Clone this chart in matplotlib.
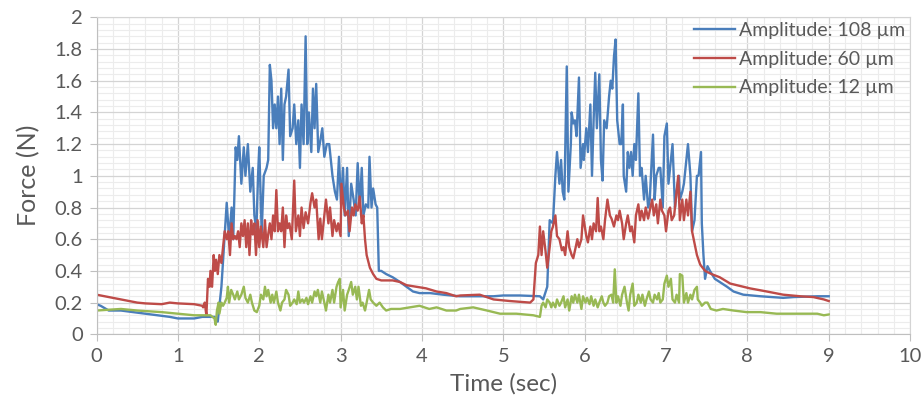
import matplotlib
matplotlib.use("Agg")
import matplotlib.pyplot as plt
from matplotlib.ticker import MultipleLocator

plt.rcParams['font.family'] = ['Lato', 'DejaVu Sans']

# (time, force)
blue_108 = [
    (0, 0.19), (0.05, 0.18), (0.15, 0.15), (0.3, 0.15), (0.45, 0.14), (0.6, 0.13),
    (0.75, 0.12), (0.9, 0.11), (1.0, 0.10), (1.1, 0.10), (1.2, 0.10), (1.3, 0.11),
    (1.45, 0.11), (1.49, 0.08), (1.535, 0.30), (1.6, 0.83), (1.63, 0.60), (1.66, 0.80),
    (1.68, 0.60), (1.71, 1.18), (1.73, 1.10), (1.75, 1.25), (1.78, 0.95), (1.81, 1.18),
    (1.83, 1.00), (1.86, 1.20), (1.89, 0.90), (1.92, 1.05), (1.94, 0.75), (1.965, 0.66),
    (1.985, 1.00), (2.0, 1.18), (2.03, 0.64), (2.055, 1.00), (2.09, 1.05), (2.11, 1.10),
    (2.13, 1.70), (2.15, 1.60), (2.17, 1.30), (2.19, 1.45), (2.21, 1.30), (2.23, 1.50),
    (2.25, 1.20), (2.27, 1.55), (2.29, 1.10), (2.31, 1.45), (2.33, 1.50), (2.36, 1.67),
    (2.38, 1.25), (2.41, 1.30), (2.43, 1.45), (2.455, 1.20), (2.48, 1.35), (2.5, 1.05),
    (2.52, 1.45), (2.545, 1.20), (2.57, 1.88), (2.59, 1.20), (2.61, 1.40), (2.64, 1.15),
    (2.66, 1.55), (2.68, 1.30), (2.70, 1.58), (2.725, 1.15), (2.75, 1.22), (2.775, 1.30),
    (2.80, 1.12), (2.83, 1.20), (2.86, 1.20), (2.90, 1.00), (2.93, 0.90), (2.955, 0.85),
    (2.98, 1.12), (3.005, 0.82), (3.03, 1.05), (3.05, 0.75), (3.08, 1.05), (3.10, 0.62),
    (3.13, 0.95), (3.16, 0.85), (3.185, 0.75), (3.21, 1.08), (3.235, 0.80), (3.26, 1.05),
    (3.28, 0.75), (3.31, 0.82), (3.34, 0.80), (3.355, 1.12), (3.38, 0.80), (3.40, 0.92),
    (3.43, 0.82), (3.45, 0.80), (3.47, 0.40), (3.50, 0.40), (3.56, 0.38), (3.64, 0.36),
    (3.73, 0.33), (3.81, 0.30), (3.89, 0.27), (3.97, 0.26), (4.1, 0.26), (4.26, 0.25),
    (4.46, 0.24), (4.7, 0.24), (4.88, 0.24), (5.0, 0.245), (5.2, 0.245), (5.45, 0.24),
    (5.49, 0.22), (5.54, 0.30), (5.57, 0.72), (5.61, 0.70), (5.64, 1.00), (5.66, 1.15),
    (5.69, 0.95), (5.71, 1.10), (5.73, 0.90), (5.75, 0.85), (5.78, 1.69), (5.80, 0.90),
    (5.83, 1.20), (5.84, 1.40), (5.86, 1.33), (5.88, 1.35), (5.90, 1.25), (5.93, 1.62),
    (5.95, 1.05), (5.98, 1.20), (5.99, 1.10), (6.02, 1.30), (6.04, 1.15), (6.07, 1.45),
    (6.09, 1.00), (6.11, 1.35), (6.13, 1.65), (6.15, 1.30), (6.18, 1.64), (6.20, 1.10),
    (6.22, 0.97), (6.24, 1.35), (6.27, 1.30), (6.30, 1.50), (6.32, 1.60), (6.34, 1.55),
    (6.36, 1.75), (6.38, 1.86), (6.40, 1.35), (6.43, 1.20), (6.45, 1.20), (6.47, 1.45),
    (6.48, 1.00), (6.51, 0.90), (6.53, 1.15), (6.55, 1.05), (6.57, 1.15), (6.59, 1.00),
    (6.61, 1.20), (6.63, 1.10), (6.66, 1.52), (6.68, 1.00), (6.70, 1.05), (6.73, 0.85),
    (6.75, 1.00), (6.78, 0.80), (6.80, 0.85), (6.84, 1.26), (6.86, 0.85), (6.88, 1.00),
    (6.91, 1.05), (6.93, 1.05), (6.96, 0.80), (6.98, 1.25), (7.01, 1.33), (7.03, 0.95),
    (7.06, 1.10), (7.08, 1.20), (7.11, 0.80), (7.13, 0.90), (7.16, 1.00), (7.17, 0.85),
    (7.20, 0.90), (7.22, 0.95), (7.25, 1.10), (7.27, 1.20), (7.30, 1.00), (7.32, 0.65),
    (7.35, 0.72), (7.38, 1.00), (7.40, 1.00), (7.43, 1.15), (7.44, 0.70), (7.46, 0.50),
    (7.48, 0.35), (7.51, 0.43), (7.54, 0.40), (7.60, 0.35), (7.66, 0.33), (7.75, 0.30),
    (7.83, 0.27), (7.95, 0.25), (8.16, 0.24), (8.44, 0.23), (8.57, 0.235), (8.86, 0.24),
    (9.0, 0.24),
]

red_60 = [
    (0, 0.25), (0.1, 0.24), (0.2, 0.23), (0.3, 0.22), (0.4, 0.21), (0.5, 0.20),
    (0.6, 0.195), (0.8, 0.19), (0.9, 0.20), (1.0, 0.195), (1.2, 0.19), (1.3, 0.18),
    (1.31, 0.17), (1.33, 0.20), (1.35, 0.12), (1.37, 0.35), (1.39, 0.30), (1.40, 0.40),
    (1.42, 0.30), (1.44, 0.50), (1.455, 0.40), (1.47, 0.47), (1.49, 0.38), (1.51, 0.50),
    (1.535, 0.45), (1.555, 0.55), (1.575, 0.65), (1.60, 0.60), (1.62, 0.65), (1.64, 0.50),
    (1.66, 0.70), (1.68, 0.60), (1.70, 0.62), (1.72, 0.60), (1.74, 0.65), (1.76, 0.55),
    (1.78, 0.70), (1.80, 0.62), (1.82, 0.72), (1.84, 0.55), (1.86, 0.70), (1.88, 0.50),
    (1.90, 0.72), (1.92, 0.63), (1.94, 0.70), (1.96, 0.50), (1.98, 0.72), (2.0, 0.55),
    (2.02, 0.68), (2.05, 0.55), (2.07, 0.72), (2.09, 0.55), (2.11, 0.63), (2.13, 0.70),
    (2.15, 0.60), (2.17, 0.75), (2.19, 0.65), (2.21, 0.91), (2.23, 0.65), (2.25, 0.70),
    (2.27, 0.65), (2.29, 0.80), (2.31, 0.55), (2.33, 0.75), (2.35, 0.67), (2.37, 0.70),
    (2.40, 0.60), (2.43, 0.97), (2.45, 0.65), (2.48, 0.75), (2.50, 0.62), (2.52, 0.80),
    (2.545, 0.67), (2.57, 0.77), (2.60, 0.70), (2.63, 0.83), (2.65, 0.89), (2.68, 0.80),
    (2.70, 0.85), (2.73, 0.60), (2.75, 0.73), (2.77, 0.60), (2.80, 0.75), (2.82, 0.85),
    (2.85, 0.70), (2.87, 0.80), (2.90, 0.62), (2.92, 0.72), (2.95, 0.65), (2.97, 0.70),
    (3.00, 0.62), (3.01, 0.95), (3.04, 0.80), (3.06, 0.75), (3.09, 0.78), (3.11, 0.65),
    (3.14, 0.80), (3.16, 0.75), (3.18, 0.82), (3.21, 0.78), (3.235, 0.87), (3.26, 0.70),
    (3.28, 0.75), (3.30, 0.60), (3.32, 0.50), (3.36, 0.42), (3.40, 0.38), (3.44, 0.35),
    (3.50, 0.34), (3.64, 0.34), (3.73, 0.33), (3.81, 0.31), (3.93, 0.30), (4.05, 0.29),
    (4.18, 0.27), (4.30, 0.26), (4.42, 0.24), (4.47, 0.245), (4.71, 0.25), (4.88, 0.22),
    (5.08, 0.21), (5.33, 0.20), (5.37, 0.22), (5.40, 0.45), (5.43, 0.50), (5.45, 0.68),
    (5.47, 0.50), (5.49, 0.65), (5.52, 0.52), (5.54, 0.42), (5.57, 0.55), (5.59, 0.65),
    (5.61, 0.68), (5.64, 0.75), (5.66, 0.62), (5.69, 0.60), (5.72, 0.53), (5.74, 0.55),
    (5.76, 0.50), (5.79, 0.65), (5.81, 0.55), (5.84, 0.50), (5.86, 0.48), (5.89, 0.55),
    (5.91, 0.60), (5.93, 0.55), (5.96, 0.60), (5.98, 0.75), (6.02, 0.62), (6.04, 0.58),
    (6.07, 0.68), (6.09, 0.60), (6.11, 0.70), (6.14, 0.65), (6.16, 0.86), (6.18, 0.65),
    (6.20, 0.68), (6.23, 0.60), (6.25, 0.72), (6.28, 0.85), (6.31, 0.75), (6.33, 0.73),
    (6.36, 0.68), (6.39, 0.75), (6.41, 0.72), (6.43, 0.78), (6.46, 0.70), (6.48, 0.60),
    (6.51, 0.70), (6.53, 0.75), (6.56, 0.65), (6.58, 0.68), (6.61, 0.58), (6.63, 0.75),
    (6.66, 0.82), (6.68, 0.72), (6.70, 0.78), (6.73, 0.72), (6.75, 0.80), (6.78, 0.73),
    (6.80, 0.78), (6.83, 0.85), (6.85, 0.75), (6.88, 0.82), (6.90, 0.70), (6.93, 0.85),
    (6.95, 0.78), (6.98, 0.75), (7.0, 0.65), (7.03, 0.78), (7.05, 0.80), (7.07, 0.72),
    (7.10, 0.75), (7.12, 0.85), (7.15, 1.00), (7.17, 0.72), (7.20, 0.85), (7.22, 0.72),
    (7.25, 0.85), (7.27, 0.75), (7.30, 0.90), (7.32, 0.65), (7.34, 0.60), (7.38, 0.50),
    (7.42, 0.44), (7.48, 0.40), (7.56, 0.38), (7.66, 0.36), (7.79, 0.32), (7.87, 0.31),
    (8.03, 0.29), (8.24, 0.27), (8.44, 0.25), (8.65, 0.24), (8.81, 0.235), (8.94, 0.22),
    (9.0, 0.21),
]

green_12 = [
    (0, 0.15), (0.3, 0.16), (0.5, 0.15), (0.8, 0.14), (1.0, 0.13), (1.2, 0.12),
    (1.4, 0.12), (1.45, 0.10), (1.465, 0.06), (1.48, 0.15), (1.50, 0.20), (1.51, 0.13),
    (1.535, 0.20), (1.555, 0.18), (1.575, 0.20), (1.60, 0.23), (1.615, 0.30), (1.63, 0.20),
    (1.655, 0.28), (1.68, 0.25), (1.70, 0.22), (1.73, 0.27), (1.75, 0.22), (1.78, 0.25),
    (1.81, 0.30), (1.83, 0.23), (1.86, 0.20), (1.89, 0.25), (1.91, 0.20), (1.94, 0.15),
    (1.97, 0.14), (2.0, 0.18), (2.02, 0.25), (2.05, 0.22), (2.07, 0.30), (2.09, 0.24),
    (2.11, 0.28), (2.14, 0.20), (2.16, 0.25), (2.18, 0.20), (2.21, 0.27), (2.23, 0.20),
    (2.26, 0.15), (2.28, 0.20), (2.31, 0.22), (2.33, 0.28), (2.36, 0.25), (2.38, 0.18),
    (2.41, 0.20), (2.43, 0.22), (2.46, 0.19), (2.48, 0.27), (2.50, 0.20), (2.53, 0.22),
    (2.55, 0.20), (2.58, 0.23), (2.60, 0.19), (2.63, 0.24), (2.65, 0.20), (2.68, 0.27),
    (2.70, 0.24), (2.72, 0.28), (2.75, 0.20), (2.77, 0.27), (2.80, 0.20), (2.82, 0.15),
    (2.85, 0.25), (2.87, 0.20), (2.90, 0.28), (2.92, 0.20), (2.95, 0.30), (2.97, 0.33),
    (2.99, 0.35), (3.0, 0.17), (3.03, 0.28), (3.05, 0.15), (3.08, 0.25), (3.10, 0.28),
    (3.13, 0.33), (3.15, 0.25), (3.18, 0.30), (3.20, 0.22), (3.22, 0.30), (3.25, 0.18),
    (3.27, 0.20), (3.30, 0.15), (3.32, 0.20), (3.35, 0.28), (3.37, 0.22), (3.40, 0.20),
    (3.44, 0.18), (3.48, 0.20), (3.52, 0.17), (3.56, 0.15), (3.62, 0.16), (3.73, 0.16),
    (3.85, 0.17), (3.97, 0.18), (4.09, 0.16), (4.18, 0.17), (4.30, 0.15), (4.42, 0.15),
    (4.47, 0.16), (4.63, 0.17), (4.80, 0.15), (4.96, 0.13), (5.16, 0.13), (5.37, 0.12),
    (5.45, 0.11), (5.47, 0.18), (5.49, 0.20), (5.52, 0.17), (5.54, 0.22), (5.57, 0.20),
    (5.59, 0.17), (5.61, 0.20), (5.64, 0.17), (5.66, 0.22), (5.69, 0.18), (5.71, 0.20),
    (5.74, 0.24), (5.76, 0.17), (5.79, 0.22), (5.81, 0.15), (5.84, 0.24), (5.86, 0.20),
    (5.88, 0.25), (5.91, 0.20), (5.93, 0.25), (5.96, 0.16), (5.98, 0.24), (6.01, 0.20),
    (6.03, 0.23), (6.06, 0.19), (6.08, 0.24), (6.11, 0.18), (6.13, 0.22), (6.16, 0.17),
    (6.18, 0.20), (6.21, 0.24), (6.23, 0.20), (6.25, 0.18), (6.28, 0.20), (6.30, 0.24),
    (6.33, 0.25), (6.35, 0.20), (6.37, 0.41), (6.39, 0.20), (6.41, 0.24), (6.44, 0.18),
    (6.46, 0.25), (6.49, 0.30), (6.52, 0.20), (6.54, 0.15), (6.56, 0.25), (6.59, 0.32),
    (6.61, 0.18), (6.64, 0.20), (6.66, 0.25), (6.69, 0.20), (6.71, 0.25), (6.74, 0.18),
    (6.76, 0.22), (6.79, 0.27), (6.81, 0.22), (6.84, 0.20), (6.86, 0.25), (6.89, 0.22),
    (6.91, 0.26), (6.93, 0.20), (6.96, 0.22), (6.98, 0.32), (7.01, 0.37), (7.03, 0.30),
    (7.06, 0.35), (7.08, 0.22), (7.11, 0.20), (7.13, 0.25), (7.16, 0.20), (7.17, 0.38),
    (7.20, 0.37), (7.22, 0.20), (7.25, 0.26), (7.27, 0.20), (7.30, 0.25), (7.32, 0.22),
    (7.35, 0.28), (7.38, 0.30), (7.39, 0.22), (7.42, 0.20), (7.44, 0.18), (7.48, 0.20),
    (7.51, 0.20), (7.55, 0.16), (7.62, 0.15), (7.70, 0.16), (7.83, 0.15), (7.99, 0.14),
    (8.16, 0.14), (8.36, 0.13), (8.48, 0.13), (8.57, 0.13), (8.73, 0.13), (8.86, 0.13),
    (8.94, 0.12), (9.0, 0.125),
]

labels = ['Amplitude: 108 µm', 'Amplitude: 60 µm', 'Amplitude: 12 µm']
colors = ['#4a7ebb', '#be4b48', '#98b954']
ytick_labels = ['0', '0.2', '0.4', '0.6', '0.8', '1', '1.2', '1.4', '1.6', '1.8', '2']

fig = plt.figure(figsize=(9.23, 4.07), dpi=100)
ax = fig.add_axes([0.1046, 0.1786, 0.8814, 0.7789])

for series, lab, col in zip([blue_108, red_60, green_12], labels, colors):
    t = [p[0] for p in series]
    f = [p[1] for p in series]
    ax.plot(t, f, color=col, lw=1.7, label=lab, solid_joinstyle='round')

ax.set_xlim(0, 10)
ax.set_ylim(0, 2)
ax.xaxis.set_major_locator(MultipleLocator(1))
ax.xaxis.set_minor_locator(MultipleLocator(0.2))
ax.set_yticks([i * 0.2 for i in range(11)])
ax.set_yticklabels(ytick_labels)
ax.yaxis.set_minor_locator(MultipleLocator(0.04))

ax.grid(which='major', color='#d4d4d4', lw=0.9)
ax.grid(which='minor', color='#ececec', lw=0.8)
ax.set_axisbelow(True)

for s in ['top', 'right']:
    ax.spines[s].set_color('#d4d4d4')
for s in ['left', 'bottom']:
    ax.spines[s].set_color('#bfbfbf')

ax.tick_params(which='major', length=5, color='#bfbfbf', labelcolor='#595959',
               labelsize=14.5, pad=5)
ax.tick_params(which='minor', length=0)

ax.set_xlabel('Time (sec)', fontsize=17.5, color='#595959', labelpad=6)
ax.set_ylabel('Force (N)', fontsize=18, color='#595959', labelpad=10)

ax.legend(loc='upper right', bbox_to_anchor=(1.016, 1.04), frameon=False,
          fontsize=14, handlelength=2.1, handletextpad=0.25, labelspacing=0.6,
          labelcolor='#595959')

fig.savefig('out.png', dpi=100)
